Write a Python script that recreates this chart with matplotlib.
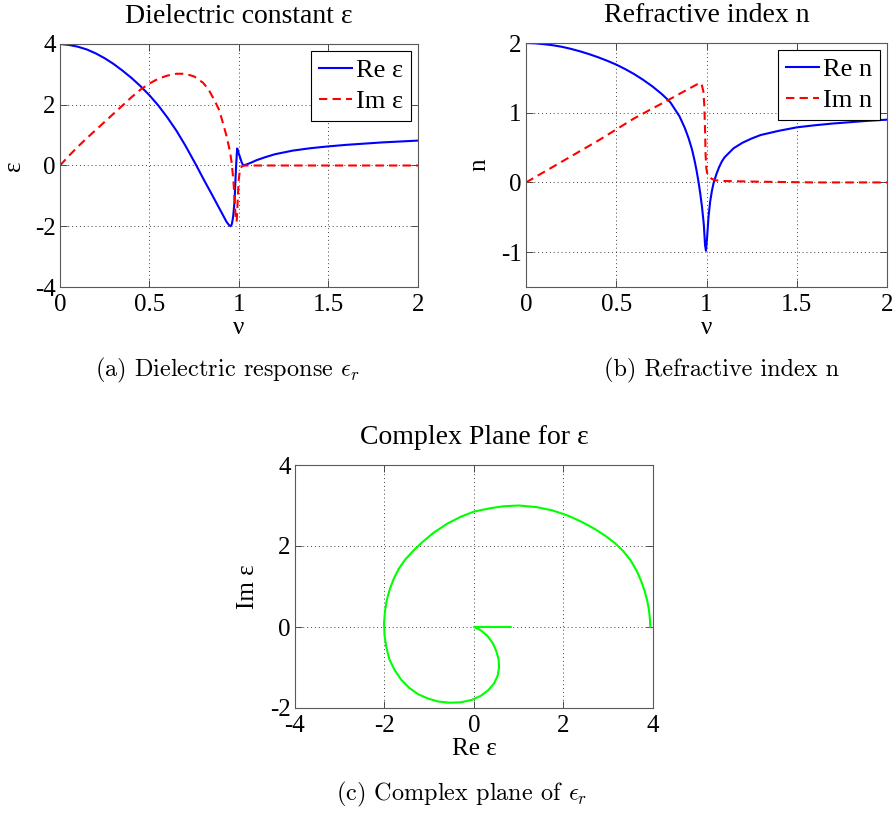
import numpy as np
import matplotlib
matplotlib.use('Agg')
import matplotlib.pyplot as plt

# ---------------- data ----------------
# (a) dielectric constant vs nu
nu_re_eps = [0, 0.05, 0.1, 0.15, 0.2, 0.25, 0.3, 0.35, 0.4, 0.45, 0.5, 0.55, 0.6, 0.65,
             0.7, 0.76, 0.8, 0.85, 0.9, 0.93, 0.945, 0.953, 0.96, 0.967, 0.975, 0.98,
             0.984, 0.988, 0.99, 0.993, 0.997, 1.006, 1.015, 1.024, 1.04, 1.07, 1.1,
             1.15, 1.2, 1.25, 1.3, 1.4, 1.5, 1.6, 1.7, 1.8, 1.9, 2.0]
re_eps = [4.0, 3.97, 3.91, 3.82, 3.69, 3.53, 3.34, 3.12, 2.88, 2.61, 2.31, 1.97, 1.58,
          1.15, 0.66, 0.02, -0.43, -0.97, -1.52, -1.85, -1.97, -2.0, -1.93, -1.7, -1.2,
          -0.5, 0.0, 0.4, 0.56, 0.5, 0.42, 0.27, 0.1, 0.0, 0.03, 0.1, 0.18, 0.28, 0.37,
          0.43, 0.49, 0.57, 0.63, 0.68, 0.72, 0.76, 0.79, 0.82]

nu_im_eps = [0, 0.05, 0.1, 0.15, 0.2, 0.25, 0.3, 0.35, 0.4, 0.45, 0.5, 0.55, 0.6, 0.65,
             0.7, 0.75, 0.8, 0.83, 0.86, 0.89, 0.91, 0.93, 0.95, 0.96, 0.97, 0.977,
             0.983, 0.987, 0.99, 0.994, 0.998, 1.005, 1.015, 1.03, 1.1, 1.5, 2.0]
im_eps = [0.0, 0.32, 0.62, 0.9, 1.17, 1.44, 1.71, 1.98, 2.25, 2.5, 2.7, 2.86, 2.96, 3.02,
          3.02, 2.93, 2.72, 2.5, 2.18, 1.82, 1.4, 0.98, 0.45, 0.05, -0.6, -1.3, -1.8,
          -1.85, -1.5, -1.0, -0.5, -0.15, -0.03, 0.0, 0.0, 0.0, 0.0]

# (b) refractive index vs nu
nu_re_n = [0, 0.05, 0.1, 0.15, 0.2, 0.25, 0.3, 0.35, 0.4, 0.45, 0.5, 0.55, 0.6, 0.65,
           0.7, 0.75, 0.78, 0.8, 0.85, 0.88, 0.9, 0.92, 0.935, 0.945, 0.955, 0.965,
           0.975, 0.985, 0.992, 0.997, 1.003, 1.011, 1.02, 1.03, 1.04, 1.055, 1.07,
           1.085, 1.1, 1.15, 1.2, 1.25, 1.3, 1.4, 1.5, 1.6, 1.7, 1.8, 1.9, 2.0]
re_n = [2.0, 1.995, 1.983, 1.967, 1.945, 1.915, 1.88, 1.84, 1.795, 1.745, 1.69, 1.625,
        1.553, 1.47, 1.378, 1.273, 1.2, 1.148, 0.95, 0.78, 0.64, 0.47, 0.3, 0.17, 0.02,
        -0.15, -0.35, -0.6, -0.9, -0.98, -0.8, -0.5, -0.28, -0.12, 0.0, 0.12, 0.22,
        0.3, 0.36, 0.49, 0.57, 0.63, 0.68, 0.74, 0.79, 0.82, 0.845, 0.865, 0.885, 0.9]

nu_im_n = [0, 0.1, 0.2, 0.3, 0.4, 0.5, 0.6, 0.7, 0.78, 0.85, 0.9, 0.95, 0.964, 0.975,
           0.983, 0.988, 0.992, 0.995, 0.999, 1.005, 1.015, 1.03, 1.05, 1.1, 1.3, 1.6,
           2.0]
im_n = [0.0, 0.15, 0.3, 0.45, 0.6, 0.76, 0.92, 1.06, 1.17, 1.27, 1.34, 1.41, 1.43,
        1.39, 1.3, 1.1, 0.75, 0.4, 0.2, 0.12, 0.08, 0.05, 0.03, 0.02, 0.01, 0.0, 0.0]

# (c) complex plane trajectory of epsilon (Re, Im)
plane_re = [3.94, 3.93, 3.91, 3.87, 3.81, 3.73, 3.63, 3.49, 3.33, 3.15, 2.95, 2.7, 2.4,
            2.1, 1.75, 1.4, 1.0, 0.65, 0.35, 0.0, -0.3, -0.6, -0.9, -1.15, -1.36, -1.54,
            -1.68, -1.79, -1.88, -1.95, -1.99, -2.01, -2.0, -1.96, -1.89, -1.78, -1.63,
            -1.45, -1.25, -1.02, -0.8, -0.55, -0.3, -0.05, 0.15, 0.32, 0.45, 0.53, 0.56,
            0.55, 0.5, 0.42, 0.3, 0.15, 0.0, 0.82]
plane_im = [0.0, 0.2, 0.42, 0.65, 0.9, 1.15, 1.4, 1.66, 1.88, 2.07, 2.24, 2.42, 2.6,
            2.75, 2.88, 2.96, 3.0, 2.98, 2.93, 2.85, 2.72, 2.55, 2.33, 2.1, 1.88, 1.66,
            1.44, 1.2, 0.94, 0.66, 0.38, 0.1, -0.2, -0.5, -0.8, -1.05, -1.3, -1.5, -1.66,
            -1.77, -1.84, -1.87, -1.86, -1.8, -1.7, -1.56, -1.39, -1.2, -1.0, -0.8, -0.6,
            -0.4, -0.22, -0.08, 0.0, 0.0]

# ---------------- style ----------------
plt.rcParams['font.family'] = ['Liberation Serif', 'DejaVu Serif']
plt.rcParams['mathtext.fontset'] = 'cm'
plt.rcParams['axes.unicode_minus'] = False

TICK_FS = 18
LABEL_FS = 18
TITLE_FS = 20
LEG_FS = 19
W, H = 895, 813
fig = plt.figure(figsize=(W / 100, H / 100), dpi=100)


def make_ax(l, t, r, b):
    ax = fig.add_axes([l / W, 1 - b / H, (r - l) / W, (b - t) / H])
    ax.tick_params(direction='in', top=True, right=True, length=5, width=0.6,
                   labelsize=TICK_FS, color='0.2')
    ax.tick_params(axis='x', pad=5)
    ax.tick_params(axis='y', pad=3)
    for s in ax.spines.values():
        s.set_color('0.35')
        s.set_linewidth(0.8)
    ax.grid(True, linestyle=(0, (1, 3)), color='0.25', linewidth=0.7)
    ax.set_axisbelow(True)
    return ax


def style_legend(ax):
    leg = ax.legend(loc='upper right', fontsize=LEG_FS, fancybox=False, framealpha=1,
                    edgecolor='black', handlelength=1.25, handletextpad=0.15,
                    labelspacing=0.3, borderpad=0.3, borderaxespad=0.25)
    leg.get_frame().set_linewidth(0.8)


DASH = (0, (4, 2.5))

# (a)
ax1 = make_ax(60, 44, 418, 287)
ax1.plot(nu_re_eps, re_eps, color='#0000ff', lw=1.5, label='Re ε')
ax1.plot(nu_im_eps, im_eps, color='#ff0000', lw=1.5, ls=DASH, label='Im ε')
ax1.set_xlim(0, 2)
ax1.set_ylim(-4, 4)
ax1.set_xticks([0, 0.5, 1, 1.5, 2])
ax1.set_xticklabels(['0', '0.5', '1', '1.5', '2'])
ax1.set_yticks([-4, -2, 0, 2, 4])
ax1.set_title('Dielectric constant ε', fontsize=TITLE_FS, pad=15)
ax1.set_xlabel('ν', fontsize=LABEL_FS, labelpad=1)
ax1.set_ylabel('ε', fontsize=LABEL_FS, labelpad=7)
style_legend(ax1)

# (b)
ax2 = make_ax(526, 43, 887, 287)
ax2.plot(nu_re_n, re_n, color='#0000ff', lw=1.5, label='Re n')
ax2.plot(nu_im_n, im_n, color='#ff0000', lw=1.5, ls=DASH, label='Im n')
ax2.set_xlim(0, 2)
ax2.set_ylim(-1.5, 2)
ax2.set_xticks([0, 0.5, 1, 1.5, 2])
ax2.set_xticklabels(['0', '0.5', '1', '1.5', '2'])
ax2.set_yticks([-1, 0, 1, 2])
ax2.set_title('Refractive index n', fontsize=TITLE_FS, pad=15)
ax2.set_xlabel('ν', fontsize=LABEL_FS, labelpad=1)
ax2.set_ylabel('n', fontsize=LABEL_FS, labelpad=8)
style_legend(ax2)

# (c)
ax3 = make_ax(295, 465, 653, 708)
ax3.plot(plane_re, plane_im, color='#00ff00', lw=1.5)
ax3.set_xlim(-4, 4)
ax3.set_ylim(-2, 4)
ax3.set_xticks([-4, -2, 0, 2, 4])
ax3.set_yticks([-2, 0, 2, 4])
ax3.set_title('Complex Plane for ε', fontsize=TITLE_FS, pad=15)
ax3.set_xlabel('Re ε', fontsize=LABEL_FS, labelpad=1)
ax3.set_ylabel('Im ε', fontsize=LABEL_FS, labelpad=8)

# captions
CFS = 17.5
fig.text(227 / W, 1 - 370 / H, r'(a) Dielectric response $\epsilon_r$', family='cmr10',
         fontsize=CFS, ha='center', va='center')
fig.text(722 / W, 1 - 370 / H, r'(b) Refractive index n', family='cmr10',
         fontsize=CFS, ha='center', va='center')
fig.text(462 / W, 1 - 794 / H, r'(c) Complex plane of $\epsilon_r$', family='cmr10',
         fontsize=CFS, ha='center', va='center')

fig.savefig('out.png', dpi=100)
